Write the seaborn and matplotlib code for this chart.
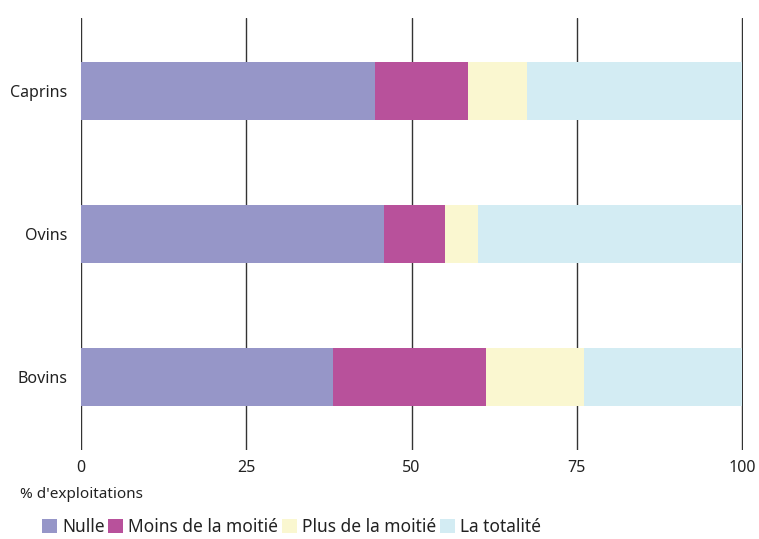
import pandas as pd
import numpy as np
import matplotlib.pyplot as plt
import seaborn as sns
from matplotlib.patches import Patch

# Data (% of farms)
especes = ['Caprins', 'Ovins', 'Bovins']
series = ['Nulle', 'Moins de la moitié', 'Plus de la moitié', 'La totalité']
nulle = [44.4, 45.9, 38.1]
moins = [14.2, 9.2, 23.1]
plus = [8.9, 5.0, 14.9]
totalite = [32.5, 39.9, 23.9]
couleurs = ['#9696C8', '#B8519B', '#FAF7D0', '#D3ECF3']
xticks = [0, 25, 50, 75, 100]

sns.set_theme(style='white')
plt.rcParams['font.family'] = ['Noto Sans', 'DejaVu Sans']

df = pd.DataFrame({'espece': especes, 'Nulle': nulle, 'Moins de la moitié': moins,
                   'Plus de la moitié': plus, 'La totalité': totalite})
cum = df[series].cumsum(axis=1)
cum['espece'] = df['espece']

fig = plt.figure(figsize=(7.59, 5.39), dpi=100)
ax = fig.add_axes([0.1067, 0.165, 0.8723, 0.8016])

# stacked bars: draw cumulative totals from the last series back to the first
for s, c in reversed(list(zip(series, couleurs))):
    sns.barplot(data=cum, x=s, y='espece', order=especes, color=c,
                width=0.4, saturation=1, orient='h', ax=ax, linewidth=0)

ax.set_xlim(0, 100.15)
ax.set_ylim(2.51, -0.51)
ax.set_xticks(xticks)
ax.set_xticklabels([str(t) for t in xticks])
ax.xaxis.grid(True, color='#333333', linewidth=1)
ax.set_axisbelow(True)
for sp in ax.spines.values():
    sp.set_visible(False)
ax.tick_params(axis='both', length=0, labelsize=11.5, colors='#222222', pad=7)
ax.tick_params(axis='y', pad=10)
ax.set_xlabel('')
ax.set_ylabel('')

fig.text(0.026, 0.083, "% d'exploitations", fontsize=11, color='#222222', va='center')

handles = [Patch(facecolor=c, edgecolor='none') for c in couleurs]
fig.legend(handles, series, loc='center left', bbox_to_anchor=(0.044, 0.023),
           ncol=4, frameon=False, fontsize=12.5, handlelength=0.85, handleheight=0.85,
           handletextpad=0.3, columnspacing=0.22, borderpad=0, labelcolor='#222222')

plt.savefig('out.png', dpi=100)
